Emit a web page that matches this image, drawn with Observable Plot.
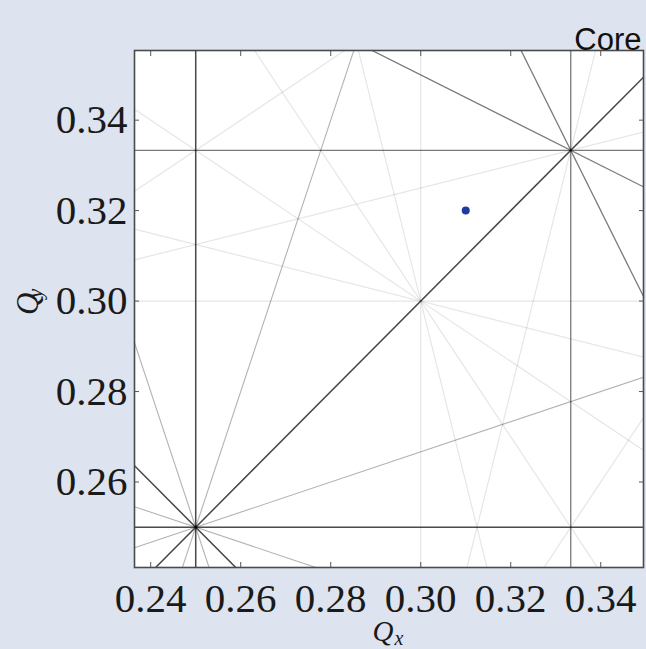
<!DOCTYPE html>
<html>
<head>
<meta charset="utf-8">
<script src="https://cdn.jsdelivr.net/npm/d3@7"></script>
<script src="https://cdn.jsdelivr.net/npm/@observablehq/plot@0.6"></script>
<style>
  html, body { margin: 0; padding: 0; }
  body { width: 646px; height: 649px; overflow: hidden; background: #dde4ef; }
  #chart svg { display: block; }
</style>
</head>
<body>
<div id="chart"></div>
<script>
// Resonance lines  m*Qx + n*Qy = rhs
const resonanceM   = [5, 0, 4, 4, 1, 1, 3, 3, 2, 2,   3, 3, 1, 1, 4, 0, 2, 2,   3, 0, 2, 1,   2, 0, 1, 1];
const resonanceN   = [0, 5, 1, -1, 4, -4, 2, -2, 3, -3,  1, -1, 3, -3, 0, 4, 2, -2,  0, 3, 1, 2,   0, 2, 1, -1];
const resonanceRHS = [1.5, 1.5, 1.5, 1, 1.5, -1, 1.5, 0.5, 1.5, -0.5,  1, 0.5, 1, -0.5, 1, 1, 1, 0,  1, 1, 1, 1,  0.5, 0.5, 0.5, 0];

const tuneQx = [0.31];
const tuneQy = [0.32];

const xTicks = [0.24, 0.26, 0.28, 0.30, 0.32, 0.34];
const yTicks = [0.26, 0.28, 0.30, 0.32, 0.34];
const xDomain = [0.2364, 0.3495];
const yDomain = [0.2411, 0.3554];
const title = "Core";
const xLabel = ["Q", "x"];
const yLabel = ["Q", "y"];

const lines = resonanceM.map((m, i) => {
  const n = resonanceN[i], r = resonanceRHS[i];
  let x1, y1, x2, y2;
  if (n === 0) { x1 = x2 = r / m; y1 = yDomain[0]; y2 = yDomain[1]; }
  else { x1 = xDomain[0]; x2 = xDomain[1]; y1 = (r - m * x1) / n; y2 = (r - m * x2) / n; }
  return {order: Math.abs(m) + Math.abs(n), x1, y1, x2, y2};
});
const tune = tuneQx.map((q, i) => ({qx: q, qy: tuneQy[i]}));

const orderStyle = {5: [0.10, 1.2], 4: [0.30, 1.1], 3: [0.52, 1.3], 2: [0.62, 1.5]};
const lineMarks = [5, 4, 3, 2].map(k => Plot.link(lines.filter(d => d.order === k), {
  x1: "x1", y1: "y1", x2: "x2", y2: "y2",
  stroke: "black", strokeOpacity: orderStyle[k][0], strokeWidth: orderStyle[k][1], clip: true
}));

const serif = "Liberation Serif";
const fmt = d3.format(".2f");

const chart = Plot.plot({
  width: 646, height: 649,
  marginLeft: 134, marginTop: 50, marginRight: 3, marginBottom: 82,
  style: {background: "transparent", overflow: "visible"},
  x: {domain: xDomain},
  y: {domain: yDomain},
  marks: [
    Plot.frame({fill: "white", stroke: null}),
    ...lineMarks,
    Plot.dot(tune, {x: "qx", y: "qy", r: 4, fill: "#1d3c9e", stroke: null}),
    Plot.frame({stroke: "#4a4a4a", strokeWidth: 1.6}),
    Plot.axisX(xTicks, {anchor: "bottom", tickSize: -5, tickFormat: () => "", stroke: "#555", label: null}),
    Plot.axisX(xTicks, {anchor: "top", tickSize: -5, tickFormat: () => "", stroke: "#555", label: null}),
    Plot.axisY(yTicks, {anchor: "left", tickSize: -5, tickFormat: () => "", stroke: "#555", label: null}),
    Plot.axisY(yTicks, {anchor: "right", tickSize: -5, tickFormat: () => "", stroke: "#555", label: null}),
    Plot.axisX(xTicks, {anchor: "bottom", tickSize: 0, tickPadding: 15, tickFormat: fmt, fontSize: 41, fontFamily: serif, fill: "#1a1a1a", label: null}),
    Plot.axisY(yTicks, {anchor: "left", tickSize: 0, tickPadding: 7, tickFormat: fmt, fontSize: 41, fontFamily: serif, fill: "#1a1a1a", label: null}),
    // axis labels
    Plot.text([xLabel[0]], {frameAnchor: "bottom", dx: -6, dy: 73, fontSize: 29, fontStyle: "italic", fontFamily: serif, fill: "#1a1a1a"}),
    Plot.text([xLabel[1]], {frameAnchor: "bottom", dx: 10, dy: 77, fontSize: 20, fontStyle: "italic", fontFamily: serif, fill: "#1a1a1a"}),
    Plot.text([yLabel[0]], {frameAnchor: "left", dx: -106, dy: 6, rotate: -90, fontSize: 31, fontStyle: "italic", fontFamily: serif, fill: "#1a1a1a"}),
    Plot.text([yLabel[1]], {frameAnchor: "left", dx: -99, dy: -11, rotate: -90, fontSize: 21, fontStyle: "italic", fontFamily: serif, fill: "#1a1a1a"}),
    Plot.text([title], {frameAnchor: "top-right", dx: -2, dy: -23, textAnchor: "end", fontSize: 31, fontFamily: "Liberation Sans", fill: "#111"})
  ]
});
document.getElementById("chart").appendChild(chart);
</script>
</body>
</html>
